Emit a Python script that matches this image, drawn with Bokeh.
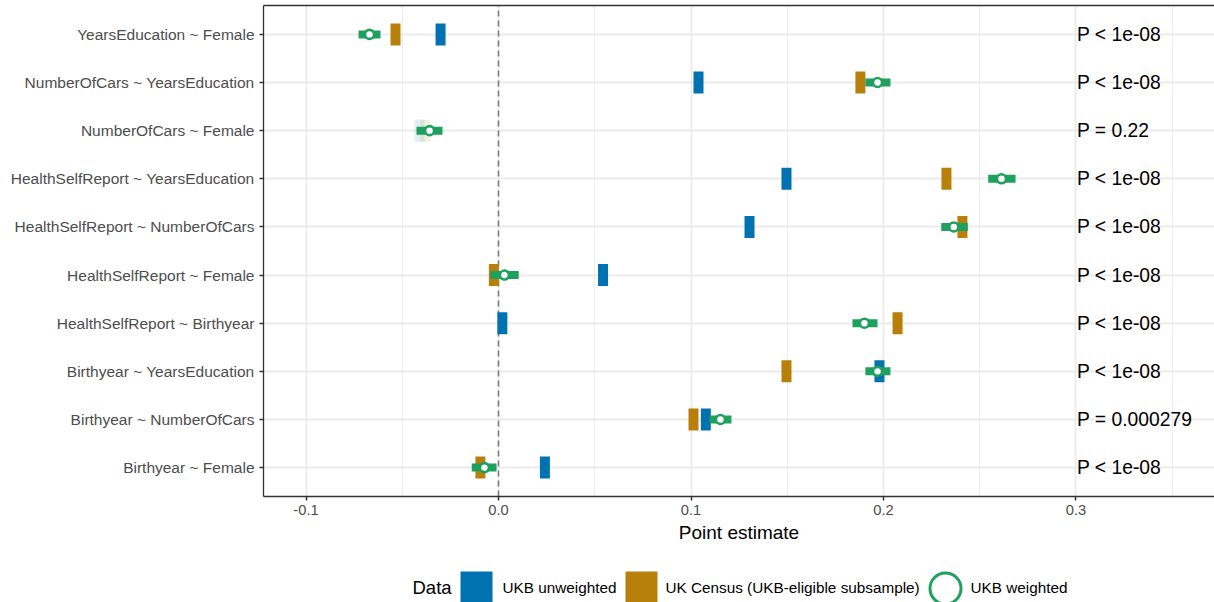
from bokeh.plotting import figure
from bokeh.models import Range1d, FixedTicker, LinearAxis, ColumnDataSource
from bokeh.layouts import column
from bokeh.core.properties import value
from bokeh.embed import file_html
from bokeh.resources import INLINE

# ---- data (bottom row first) ----
categories = [
    "Birthyear ~ Female",
    "Birthyear ~ NumberOfCars",
    "Birthyear ~ YearsEducation",
    "HealthSelfReport ~ Birthyear",
    "HealthSelfReport ~ Female",
    "HealthSelfReport ~ NumberOfCars",
    "HealthSelfReport ~ YearsEducation",
    "NumberOfCars ~ Female",
    "NumberOfCars ~ YearsEducation",
    "YearsEducation ~ Female",
]
ukb_unweighted = [0.0241, 0.1077, 0.1979, 0.0020, 0.0543, 0.1304, 0.1496, -0.0410, 0.1039, -0.0301]
uk_census = [-0.0094, 0.1013, 0.1496, 0.2073, -0.0024, 0.2410, 0.2327, -0.0380, 0.1880, -0.0535]
ukb_weighted = [-0.0073, 0.1153, 0.1969, 0.1901, 0.0031, 0.2365, 0.2613, -0.0358, 0.1969, -0.0670]
weighted_lower = [-0.0139, 0.1096, 0.1906, 0.1839, -0.0042, 0.2300, 0.2544, -0.0426, 0.1906, -0.0727]
weighted_upper = [-0.0010, 0.1210, 0.2036, 0.1969, 0.0105, 0.2438, 0.2686, -0.0291, 0.2036, -0.0613]
p_labels = ["P < 1e-08", "P = 0.000279", "P < 1e-08", "P < 1e-08", "P < 1e-08",
            "P < 1e-08", "P < 1e-08", "P = 0.22", "P < 1e-08", "P < 1e-08"]
x_ticks = [-0.1, 0.0, 0.1, 0.2, 0.3]
x_tick_labels = ["-0.1", "0.0", "0.1", "0.2", "0.3"]
x_minor_ticks = [-0.15, -0.05, 0.05, 0.15, 0.25, 0.35]
series_names = ["UKB unweighted", "UK Census (UKB-eligible subsample)", "UKB weighted"]

BLUE = "#0072B2"
GOLD = "#B8800A"
GREEN = "#1FA05E"
FONT = "Liberation Sans"

ypos = list(range(1, len(categories) + 1))


def faint(lbl):
    if lbl.startswith("P ="):
        return float(lbl.split("=")[1]) > 0.05
    return False


alphas = [0.12 if faint(l) else 1.0 for l in p_labels]

src = ColumnDataSource(dict(
    y=ypos, unw=ukb_unweighted, cen=uk_census, w=ukb_weighted,
    lo=weighted_lower, hi=weighted_upper, lab=p_labels, alpha=alphas,
    px=[0.3] * len(categories),
))

p = figure(width=1214, height=548, output_backend="svg", toolbar_location=None,
           x_range=Range1d(-0.12208, 0.37195), y_range=Range1d(0.4, 10.6),
           min_border_left=263, min_border_right=0, min_border_top=5, min_border_bottom=52)
p.outline_line_color = None
p.background_fill_color = "white"
p.border_fill_color = "white"

# grid
p.xgrid.ticker = FixedTicker(ticks=x_ticks, minor_ticks=x_minor_ticks)
p.xgrid.grid_line_color = "#EBEBEB"
p.xgrid.grid_line_width = 1.8
p.xgrid.minor_grid_line_color = "#EBEBEB"
p.xgrid.minor_grid_line_width = 0.9
p.ygrid.ticker = FixedTicker(ticks=ypos)
p.ygrid.grid_line_color = "#EBEBEB"
p.ygrid.grid_line_width = 1.8

# axes
xa = p.xaxis[0]
xa.ticker = FixedTicker(ticks=x_ticks)
xa.major_label_overrides = {t: l for t, l in zip(x_ticks, x_tick_labels)}
xa.axis_label = "Point estimate"
xa.axis_label_text_font = FONT
xa.axis_label_text_font_size = "19px"
xa.axis_label_text_font_style = "normal"
xa.axis_label_text_color = "black"
xa.axis_label_standoff = 4
ya = p.yaxis[0]
ya.ticker = FixedTicker(ticks=ypos)
ya.major_label_overrides = {y: c for y, c in zip(ypos, categories)}
for ax in (xa, ya):
    ax.axis_line_color = "#333333"
    ax.axis_line_width = 1.3
    ax.major_tick_line_color = "#333333"
    ax.major_tick_line_width = 1.5
    ax.major_tick_in = 0
    ax.major_tick_out = 4
    ax.minor_tick_line_color = None
    ax.major_label_text_font = FONT
    ax.major_label_text_color = "#4D4D4D"
    ax.major_label_standoff = 4
xa.major_label_text_font_size = "14.7px"
ya.major_label_text_font_size = "15.5px"
ya.major_label_standoff = 5

top = LinearAxis(ticker=FixedTicker(ticks=[]), axis_line_color="#333333", axis_line_width=1.3,
                 major_tick_line_color=None, minor_tick_line_color=None,
                 major_label_text_font_size="0px", major_label_standoff=0,
                 major_tick_out=0, major_tick_in=0)
p.add_layout(top, "above")

# zero line
p.segment(x0=0, y0=0.4, x1=0, y1=10.6, line_color="#7F7F7F", line_width=1.6, line_dash="6 4")

# marks
p.rect(x="unw", y="y", width=10, height=22, width_units="screen", height_units="screen",
       source=src, fill_color=BLUE, line_color=None, fill_alpha="alpha")
p.rect(x="cen", y="y", width=10, height=22, width_units="screen", height_units="screen",
       source=src, fill_color=GOLD, line_color=None, fill_alpha="alpha")
p.segment(x0="lo", y0="y", x1="hi", y1="y", source=src, line_color=GREEN, line_width=8,
          line_cap="butt")
p.scatter(x="w", y="y", source=src, marker="circle", size=9, fill_color="white",
          line_color=GREEN, line_width=2.6)

p.text(x="px", y="y", text="lab", source=src, text_align="left", text_baseline="middle",
       text_font=value(FONT), text_font_size="19.3px", text_color="black", x_offset=1)

# ---- legend strip (its frame is aligned with the main frame: 263..1214 px) ----
lg = figure(width=1214, height=54, output_backend="svg", toolbar_location=None,
            x_range=Range1d(263, 1214), y_range=Range1d(602, 548),
            min_border_left=263, min_border_right=0, min_border_top=0, min_border_bottom=0)
lg.axis.visible = False
lg.grid.visible = False
lg.outline_line_color = None
lg.background_fill_color = "white"
lg.border_fill_color = "white"
ly = 587
lg.text(x=[412], y=[ly], text=["Data"], text_font=value(FONT), text_font_size="18.5px",
        text_baseline="middle", text_align="left", text_color="black")
lg.rect(x=[476], y=[ly], width=32, height=32, fill_color=BLUE, line_color=None)
lg.rect(x=[641], y=[ly], width=32, height=32, fill_color=GOLD, line_color=None)
lg.scatter(x=[945], y=[ly + 1], size=31, marker="circle", fill_color="white", line_color=GREEN,
           line_width=3)
lg.text(x=[502, 665, 970], y=[ly] * 3, text=series_names, text_font=value(FONT),
        text_font_size="15.3px", text_baseline="middle", text_align="left", text_color="black")

layout = column(p, lg, spacing=0)
open("out.html", "w").write(file_html(layout, INLINE))
